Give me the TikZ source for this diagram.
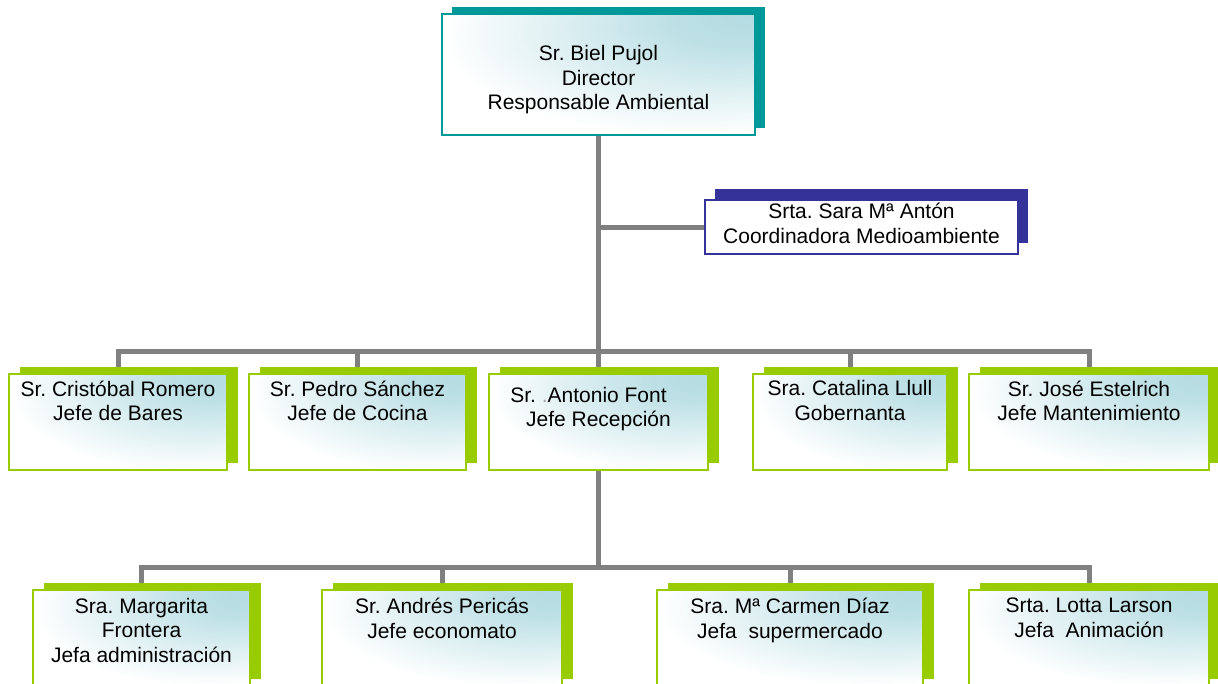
\documentclass[tikz,border=0pt]{standalone}
\usepackage{fontspec}
\setmainfont{Liberation Sans}
\frenchspacing
\usetikzlibrary{shadows,backgrounds}
\definecolor{chteal}{RGB}{0,153,153}
\definecolor{chnavy}{RGB}{51,51,153}
\definecolor{chgreen}{RGB}{153,204,0}
\definecolor{chgray}{RGB}{128,128,128}
\definecolor{chtint}{RGB}{180,220,226}
\pgfdeclareradialshading{boxshade}{\pgfpoint{25bp}{25bp}}{color(0bp)=(chtint);
	color(10bp)=(chtint!90); color(40bp)=(white); color(100bp)=(white)}
\begin{document}
\begin{tikzpicture}[x=1pt,y=-1pt,
	every node/.style={font=\fontsize{21}{24.5}\selectfont},
	chartbox/.style={rectangle,line width=2pt,inner sep=0pt,minimum height=96pt,
		shade,shading=boxshade},
	greenbox/.style={chartbox,draw=chgreen,
		general shadow={fill=chgreen,shadow xshift=11pt,shadow yshift=7pt}},
	boxtext/.style={anchor=north,align=center,inner sep=0pt,execute at begin node=\strut},
	conn/.style={draw=chgray,line width=5pt}]
	\useasboundingbox (0,0) rectangle (1218,683);
	
	% director and coordinator
	\node (dir) at (598.5,74.5) [chartbox,draw=chteal,minimum width=313pt,minimum height=121pt,
		general shadow={fill=chteal,shadow xshift=10pt,shadow yshift=7pt}] {};
	\node (dirtxt) at (598.5,45.5) [boxtext] {Sr. Biel Pujol\\Director\\Responsable Ambiental};
	\node (coord) at (861.5,227) [rectangle,draw=chnavy,line width=2pt,fill=white,inner sep=0pt,
		minimum width=313pt,minimum height=54pt,
		general shadow={fill=chnavy,shadow xshift=10pt,shadow yshift=11pt}] {};
	\node (coordtxt) at (861.5,203.3) [boxtext] {Srta. Sara Mª Antón\\Coordinadora Medioambiente};
	
	% heads of department
	\node (bares) at (118,422) [greenbox,minimum width=218pt] {};
	\node (cocina) at (357.5,422) [greenbox,minimum width=217pt] {};
	\node (recep) at (598.5,422) [greenbox,minimum width=219pt] {};
	\node (gober) at (850,422) [greenbox,minimum width=194pt] {};
	\node (mant) at (1089,422) [greenbox,minimum width=240pt] {};
	\node (barestxt) at (118,380.5) [boxtext] {Sr. Cristóbal Romero\\Jefe de Bares};
	\node (cocinatxt) at (357.5,380.5) [boxtext] {Sr. Pedro Sánchez\\Jefe de Cocina};
	\node (receptxt) at (598.5,387) [boxtext] {Sr. {\color{black!35}.}Antonio Font\hspace*{20pt}\\Jefe Recepción};
	\node (gobertxt) at (850,380.5) [boxtext] {Sra. Catalina Llull\\Gobernanta};
	\node (manttxt) at (1089,380.5) [boxtext] {Sr. José Estelrich\\Jefe Mantenimiento};
	
	% reception staff
	\node (admin) at (141.5,638) [greenbox,minimum width=217pt] {};
	\node (econ) at (442,638) [greenbox,minimum width=240pt] {};
	\node (super) at (790,638) [greenbox,minimum width=266pt] {};
	\node (anim) at (1089,638) [greenbox,minimum width=240pt] {};
	\node (admintxt) at (141.5,598) [boxtext] {Sra. Margarita\\Frontera\\Jefa administración};
	\node (econtxt) at (442,598) [boxtext] {Sr. Andrés Pericás\\Jefe economato};
	\node (supertxt) at (790,598) [boxtext] {Sra. Mª Carmen Díaz\\Jefa~ supermercado};
	\node (animtxt) at (1089,598) [boxtext] {Srta. Lotta Larson\\Jefa~ Animación};
	
	\coordinate (bus1) at (598.5,351);
	\coordinate (bus2) at (598.5,567);
	\begin{scope}[on background layer]
		\draw[conn] (dir.south) -- (recep.north);
		\draw[conn] (coord.west) -- (coord.west -| dir.south);
		\draw[conn] (bares.north) |- (bus1) -| (mant.north);
		\draw[conn] (cocina.north) -- (cocina.north |- bus1);
		\draw[conn] (gober.north) -- (gober.north |- bus1);
		\draw[conn] (recep.south) -- (bus2);
		\draw[conn] (admin.north) |- (bus2) -| (anim.north);
		\draw[conn] (econ.north) -- (econ.north |- bus2);
		\draw[conn] (super.north) -- (super.north |- bus2);
	\end{scope}
\end{tikzpicture}
\end{document}
